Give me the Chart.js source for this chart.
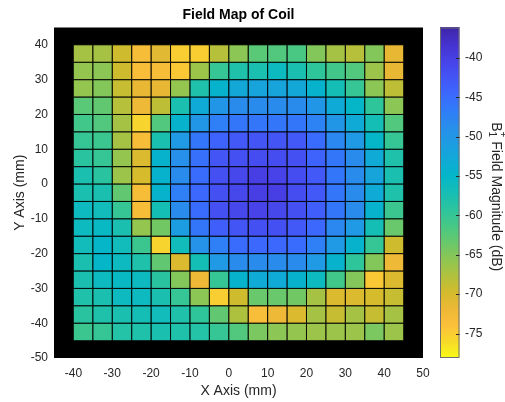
<!DOCTYPE html>
<html>
<head>
<meta charset="utf-8">
<title>Field Map of Coil</title>
<script src="https://cdn.jsdelivr.net/npm/chart.js"></script>
<style>
  body { margin: 0; background: #fff; }
  #wrap { width: 505px; height: 402px; }
</style>
</head>
<body>
<div id="wrap"><canvas id="fieldMapChart"></canvas></div>

<script>
  // column left edges (mm) and row bottom edges (mm, top row first)
  const xCells = [-40, -35, -30, -25, -20, -15, -10, -5, 0, 5, 10, 15, 20, 25, 30, 35, 40];
  const yCells = [35, 30, 25, 20, 15, 10, 5, 0, -5, -10, -15, -20, -25, -30, -35, -40, -45];
  const xTicks = [-40, -30, -20, -10, 0, 10, 20, 30, 40, 50];
  const yTicks = [-50, -40, -30, -20, -10, 0, 10, 20, 30, 40];
  const cbTicks = [-40, -45, -50, -55, -60, -65, -70, -75];

  // B1+ magnitude in dB, one row per yCells entry, one column per xCells entry
  const fieldDb = [
    [-67, -67, -69.5, -73, -71, -75, -75, -68, -65.5, -62.5, -62, -61.5, -65, -67, -68, -65, -71.5],
    [-66, -65.5, -69.5, -73.5, -73, -74.5, -66.5, -60, -58, -57.5, -56, -57.5, -59.5, -61, -62, -66.5, -71.5],
    [-66, -65, -69, -71.5, -71.5, -66, -58, -54.5, -52.5, -52, -52, -52.5, -54.5, -57, -60, -65.5, -68.5],
    [-62.5, -63, -68, -72, -68.5, -57.5, -53, -50, -48.5, -48.5, -48.5, -48.5, -50, -53, -55, -59.5, -65.5],
    [-61, -62, -67, -75.5, -62, -54.5, -50, -47, -46, -46, -46, -46, -47.5, -50, -53, -57, -62],
    [-60, -60.5, -67, -73, -57.5, -50.5, -46, -44, -43, -42.5, -42.5, -43, -45, -48, -50.5, -55, -60],
    [-59, -60, -66, -70.5, -54.5, -49, -45.5, -42.5, -42, -41.5, -41.5, -42, -44, -46, -48.5, -53, -58],
    [-57.5, -59, -66.5, -70, -54.5, -48.5, -45, -42, -41, -40, -40.5, -41.5, -43, -46, -48.5, -52, -57.5],
    [-57.5, -57.5, -63, -73, -54.5, -47, -44.5, -42, -41, -40, -40, -41.5, -43, -46, -48.5, -53, -58],
    [-56, -56.5, -60, -73, -57, -48.5, -45, -42, -41, -40.5, -41, -42, -43.5, -46, -48.5, -54.5, -60.5],
    [-56, -55.5, -57.5, -66, -64, -51, -46, -43.5, -42.5, -42, -42, -43, -44.5, -48, -50.5, -57, -63.5],
    [-56.5, -55, -56.5, -60.5, -75.5, -56.5, -49.5, -47, -45, -44.5, -44.5, -45, -47, -50.5, -54.5, -60, -69.5],
    [-57.5, -55, -56, -58, -63, -70.5, -57, -50.5, -48.5, -48.5, -48.5, -48.5, -50.5, -54.5, -59.5, -65, -72],
    [-57.5, -56, -55.5, -56, -59, -65, -72, -60, -54.5, -53, -53, -54.5, -56, -61, -65, -74.5, -70.5],
    [-58, -57.5, -56, -56, -57.5, -60, -65.5, -75, -69.5, -63.5, -63.5, -64, -67, -70.5, -70.5, -70, -69],
    [-59, -58, -57.5, -57, -56.5, -58, -59.5, -63, -67.5, -73.5, -72, -70.5, -67, -69, -67, -69, -67],
    [-60.5, -60, -58.5, -58, -57.5, -58, -58.5, -60, -62, -64.5, -65.5, -66, -66.5, -66.5, -66.5, -64.5, -66.5]
  ];

  const CELL = 5;
  const CB_MIN = -78.1, CB_MAX = -36.15;
  const FONT = "'Liberation Sans', Arial, Helvetica, sans-serif";
  const TXT = '#262626';

  // parula, flipped so the high end (CB_MAX) is dark blue
  const parulaStops = [
    [62, 38, 168], [69, 50, 205], [71, 66, 232], [68, 84, 246], [60, 104, 254],
    [48, 124, 248], [40, 142, 236], [30, 156, 226], [16, 170, 214], [4, 182, 200],
    [22, 190, 180], [44, 196, 158], [70, 200, 134], [104, 200, 108], [140, 198, 84],
    [176, 193, 62], [210, 187, 44], [236, 184, 54], [252, 192, 58], [246, 218, 42],
    [249, 251, 20]
  ];
  function dbColor(v) {
    let t = (CB_MAX - v) / (CB_MAX - CB_MIN);
    t = Math.min(1, Math.max(0, t)) * (parulaStops.length - 1);
    const i = Math.min(parulaStops.length - 2, Math.floor(t));
    const f = t - i, a = parulaStops[i], b = parulaStops[i + 1];
    const c = a.map((ch, k) => Math.round(ch + (b[k] - ch) * f));
    return `rgb(${c[0]},${c[1]},${c[2]})`;
  }

  const points = [];
  fieldDb.forEach((row, r) => row.forEach((v, c) => {
    points.push({ x: xCells[c] + CELL / 2, y: yCells[r] + CELL / 2, v: v });
  }));

  const cellMap = {
    id: 'cellMap',
    beforeDatasetsDraw(chart) {
      const { ctx, chartArea: a, scales: { x, y } } = chart;
      ctx.save();
      ctx.fillStyle = '#000';
      ctx.fillRect(a.left, a.top, a.right - a.left, a.bottom - a.top);
      fieldDb.forEach((row, r) => row.forEach((v, c) => {
        const x0 = x.getPixelForValue(xCells[c]), x1 = x.getPixelForValue(xCells[c] + CELL);
        const y0 = y.getPixelForValue(yCells[r] + CELL), y1 = y.getPixelForValue(yCells[r]);
        ctx.fillStyle = dbColor(v);
        ctx.fillRect(x0, y0, x1 - x0, y1 - y0);
      }));
      // cell edges
      ctx.strokeStyle = 'rgba(0,0,0,0.7)';
      ctx.lineWidth = 1;
      fieldDb.forEach((row, r) => row.forEach((v, c) => {
        const x0 = x.getPixelForValue(xCells[c]), x1 = x.getPixelForValue(xCells[c] + CELL);
        const y0 = y.getPixelForValue(yCells[r] + CELL), y1 = y.getPixelForValue(yCells[r]);
        ctx.strokeRect(x0, y0, x1 - x0, y1 - y0);
      }));
      ctx.restore();
    },
    afterDraw(chart) {
      const { ctx, chartArea: a, scales: { cb } } = chart;
      ctx.save();
      // title
      ctx.fillStyle = '#000';
      ctx.font = `bold 14px ${FONT}`;
      ctx.textAlign = 'center';
      ctx.textBaseline = 'middle';
      ctx.fillText('Field Map of Coil', (a.left + a.right) / 2, 15);

      // colour bar
      const bx = 440, bw = 19.5;
      const top = cb.getPixelForValue(CB_MAX), bot = cb.getPixelForValue(CB_MIN);
      for (let py = Math.floor(top); py < bot; py++) {
        ctx.fillStyle = dbColor(cb.getValueForPixel(py + 0.5));
        ctx.fillRect(bx, py, bw, 1);
      }
      ctx.strokeStyle = '#6e6e6e';
      ctx.lineWidth = 1;
      ctx.strokeRect(bx + 0.5, top + 0.5, bw - 1, bot - top - 1);
      ctx.strokeStyle = '#262626';
      cbTicks.forEach(t => {
        const py = Math.round(cb.getPixelForValue(t)) + 0.5;
        ctx.beginPath();
        ctx.moveTo(bx + bw - 3.5, py);
        ctx.lineTo(bx + bw, py);
        ctx.stroke();
      });

      // colour bar label: B with subscript 1 and superscript +
      ctx.translate(497, (top + bot) / 2 + 4);
      ctx.rotate(Math.PI / 2);
      ctx.fillStyle = TXT;
      ctx.textAlign = 'left';
      ctx.textBaseline = 'alphabetic';
      const big = `14px ${FONT}`, small = `10px ${FONT}`;
      ctx.font = big;
      const wB = ctx.measureText('B').width;
      const wRest = ctx.measureText(' Field Magnitude (dB)').width;
      ctx.font = small;
      const wS = Math.max(ctx.measureText('1').width, ctx.measureText('+').width);
      let px = -(wB + wS + wRest) / 2;
      const base = 5;
      ctx.font = big;
      ctx.fillText('B', px, base);
      px += wB;
      ctx.font = small;
      ctx.fillText('1', px, base + 3);
      ctx.fillText('+', px, base - 8);
      px += wS;
      ctx.font = big;
      ctx.fillText(' Field Magnitude (dB)', px, base);
      ctx.restore();
    }
  };

  const ctx = document.getElementById('fieldMapChart').getContext('2d');
  new Chart(ctx, {
    type: 'scatter',
    data: {
      datasets: [{
        label: 'B1+ (dB)',
        data: points,
        pointRadius: 0,
        pointHoverRadius: 0
      }]
    },
    options: {
      responsive: true,
      maintainAspectRatio: false,
      animation: false,
      layout: { padding: { top: 27.5, left: 0, right: 0, bottom: 0 } },
      plugins: {
        legend: { display: false },
        title: { display: false },
        tooltip: {
          callbacks: { label: c => ` (${c.raw.x}, ${c.raw.y}) ${c.raw.v} dB` }
        }
      },
      scales: {
        x: {
          type: 'linear',
          position: 'bottom',
          min: -45,
          max: 50,
          afterBuildTicks: s => { s.ticks = xTicks.map(v => ({ value: v })); },
          afterFit: s => { s.height = 44; },
          grid: { display: false, drawTicks: false },
          border: { display: false },
          ticks: { color: TXT, font: { family: FONT, size: 12 }, padding: 8, maxRotation: 0 },
          title: { display: true, text: 'X Axis (mm)', color: TXT, font: { family: FONT, size: 14 }, padding: { top: 0, bottom: 2 } }
        },
        y: {
          type: 'linear',
          position: 'left',
          min: -50,
          max: 45,
          afterBuildTicks: s => { s.ticks = yTicks.map(v => ({ value: v })); },
          afterFit: s => { s.width = 54; },
          grid: { display: false, drawTicks: false },
          border: { display: false },
          ticks: { color: TXT, font: { family: FONT, size: 12 }, padding: 6 },
          title: { display: true, text: 'Y Axis (mm)', color: TXT, font: { family: FONT, size: 14 }, padding: { top: 12, bottom: 0 } }
        },
        cb: {
          type: 'linear',
          position: 'right',
          min: CB_MIN,
          max: CB_MAX,
          afterBuildTicks: s => { s.ticks = cbTicks.map(v => ({ value: v })); },
          afterFit: s => { s.width = 82; },
          // hidden tick marks only push the labels past the colour bar
          grid: { display: false, drawTicks: true, tickLength: 41 },
          border: { display: false },
          ticks: { color: TXT, font: { family: FONT, size: 12 }, padding: 1 }
        }
      }
    },
    plugins: [cellMap]
  });
</script>
</body>
</html>
